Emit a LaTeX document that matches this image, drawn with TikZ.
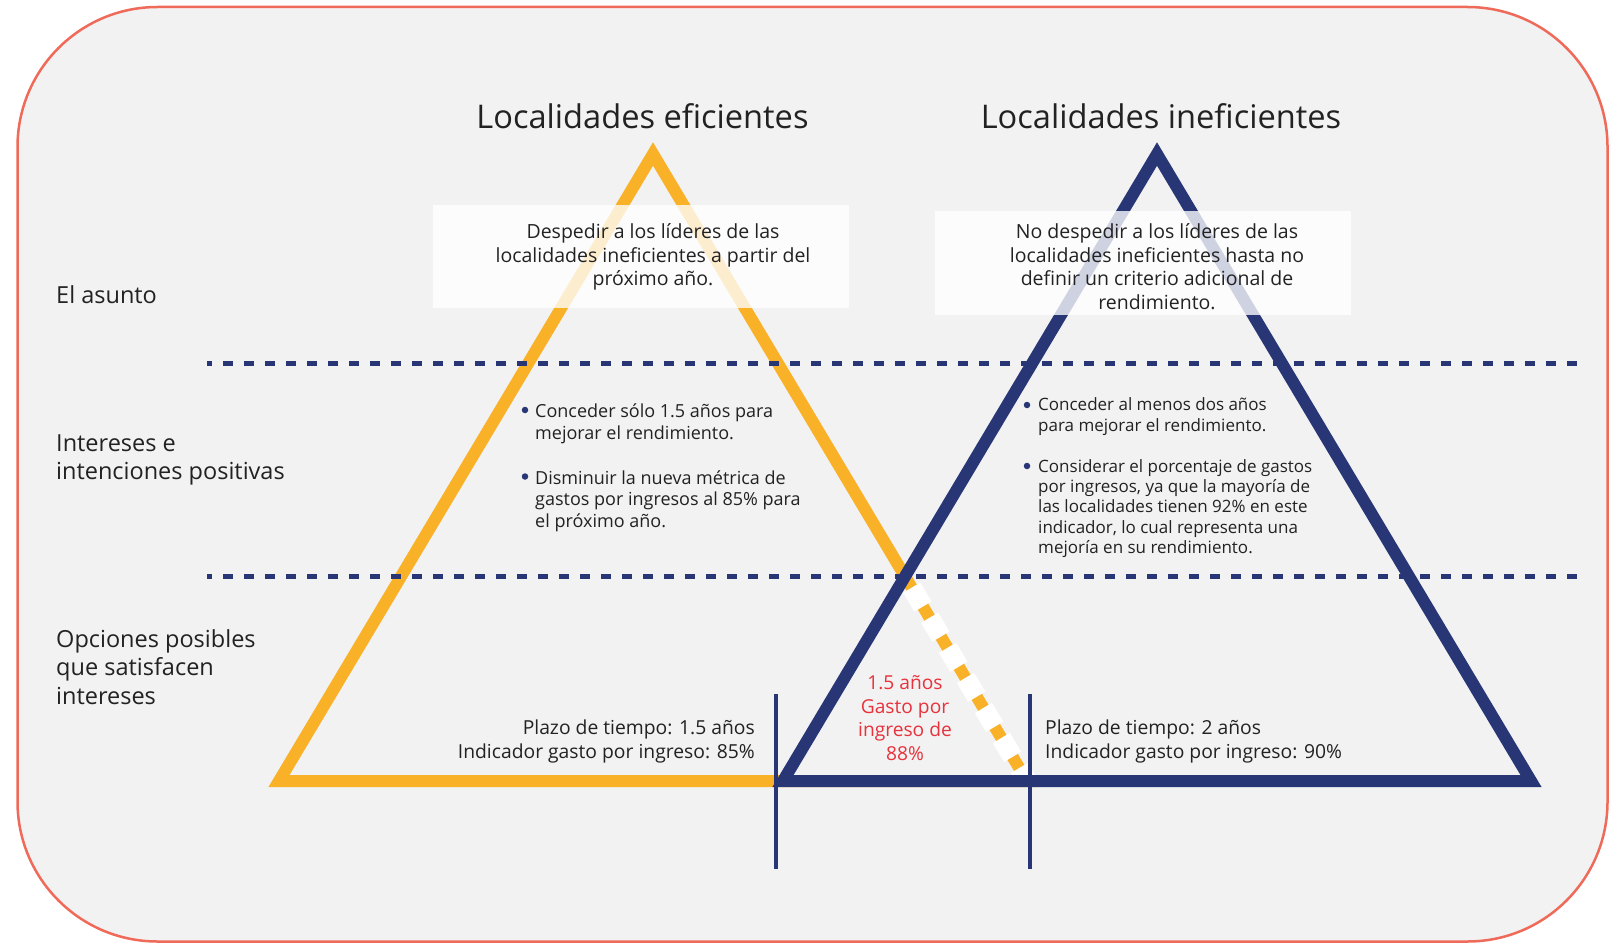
\documentclass[tikz,border=0pt]{standalone}
\usepackage{fontspec}
\setmainfont{Open Sans}
\definecolor{navy}{HTML}{283676}
\definecolor{amber}{HTML}{F9B128}
\definecolor{framered}{HTML}{F06A5A}
\definecolor{panel}{HTML}{F2F2F2}
\definecolor{ink}{HTML}{222222}
\definecolor{alert}{HTML}{E8323C}
\begin{document}
\begin{tikzpicture}[x=1pt,y=-1pt,
  txt/.style={inner sep=0pt, text=ink},
  title/.style={txt, font={\fontsize{32.6}{39}\selectfont}},
  rowlabel/.style={txt, anchor=west, align=left, font={\fontsize{23.5}{28.5}\selectfont}},
  issue/.style={txt, align=center, font={\fontsize{19.5}{23.5}\selectfont}},
  panelbox/.style={draw=none, fill=white, fill opacity=0.78, inner sep=0pt},
  leftitem/.style={txt, anchor=west, align=left, font={\fontsize{18}{21.5}\selectfont}},
  rightitem/.style={txt, anchor=west, align=left, font={\fontsize{17}{20.3}\selectfont}},
  dot/.style={circle, fill=navy, inner sep=0pt, minimum size=6.5pt},
  outcome/.style={txt, align=center, text=alert, font={\fontsize{19.2}{23.7}\selectfont}},
  option/.style={txt, font={\fontsize{19.3}{24}\selectfont}},
  sides/.style={line width=12pt, line join=miter},
  divider/.style={navy, line width=5pt, dash pattern=on 10pt off 11pt, dash phase=5pt},
  marker/.style={navy, line width=4.5pt}
]
\useasboundingbox (0,0) rectangle (1616,944);

% outer panel
\draw[framered, line width=2.5pt, fill=panel, rounded corners=140pt] (17.5,7) rectangle (1607.5,941.5);

% triangle corners
\coordinate (oA) at (653,154);
\coordinate (oL) at (279,781);
\coordinate (oR) at (1027,781);
\coordinate (nA) at (1157,154);
\coordinate (nL) at (783,781);
\coordinate (nR) at (1531,781);
\coordinate (cross) at (intersection of oA--oR and nA--nL);

% efficient triangle, its lower right side broken by white blocks
\draw[amber, sides] (oA) -- (oL) -- (oR) -- cycle;
\draw[white, line width=20pt, dash pattern=on 22pt off 13pt, dash phase=22pt] (cross) -- (oR);

% inefficient triangle
\draw[navy, sides] (nA) -- (nL) -- (nR) -- cycle;

% row dividers
\coordinate (d1a) at (207,363);
\coordinate (d1b) at (1584,363);
\coordinate (d2a) at (207,576);
\coordinate (d2b) at (1584,576);
\draw[divider] (d1a) -- (d1b);
\draw[divider] (d2a) -- (d2b);

% range markers
\coordinate (m1t) at (776,694);
\coordinate (m1b) at (776,869);
\coordinate (m2t) at (1030,694);
\coordinate (m2b) at (1030,869);
\draw[marker] (m1t) -- (m1b);
\draw[marker] (m2t) -- (m2b);

% titles
\node[title, anchor=base] (tEff) at (642.5,129) {Localidades eficientes};
\node[title, anchor=base] (tIneff) at (1161,129) {Localidades ineficientes};

% row labels
\node[rowlabel] (rIssue) at (56,294.5) {El asunto};
\node[rowlabel] (rInterest) at (56,460) {Intereses e\\intenciones positivas};
\node[rowlabel] (rOptions) at (56,667) {Opciones posibles\\que satisfacen\\intereses};

% positions
\node[panelbox, minimum width=416pt, minimum height=103pt] (boxEff) at (641,256.5) {};
\node[panelbox, minimum width=416pt, minimum height=104pt] (boxIneff) at (1143,263) {};
\node[issue] (issueEff) at (653,257) {Despedir a los líderes de las\\localidades ineficientes a partir del\\próximo año.};
\node[issue] (issueIneff) at (1157,266.5) {No despedir a los líderes de las\\localidades ineficientes hasta no\\definir un criterio adicional de\\rendimiento.};

% interests, efficient side
\node[dot] (bE1) at (525,410) {};
\node[leftitem] (iE1) at (535,424) {Conceder sólo 1.5 años para\\mejorar el rendimiento.};
\node[dot] (bE2) at (525,476.5) {};
\node[leftitem] (iE2) at (535,501) {Disminuir la nueva métrica de\\gastos por ingresos al 85\% para\\el próximo año.};

% interests, inefficient side
\node[dot] (bI1) at (1027,405) {};
\node[rightitem] (iI1) at (1038,416.5) {Conceder al menos dos años\\para mejorar el rendimiento.};
\node[dot] (bI2) at (1027,466) {};
\node[rightitem] (iI2) at (1038,508.5) {Considerar el porcentaje de gastos\\por ingresos, ya que la mayoría de\\las localidades tienen 92\% en este\\indicador, lo cual representa una\\mejoría en su rendimiento.};

% options
\node[option, anchor=east, align=right] (optEff) at (755,741) {Plazo de tiempo: 1.5 años\\Indicador gasto por ingreso: 85\%};
\node[option, anchor=west, align=left] (optIneff) at (1045,741) {Plazo de tiempo: 2 años\\Indicador gasto por ingreso: 90\%};
\node[outcome] (middle) at (905,718) {1.5 años\\Gasto por\\ingreso de\\88\%};
\end{tikzpicture}
\end{document}
